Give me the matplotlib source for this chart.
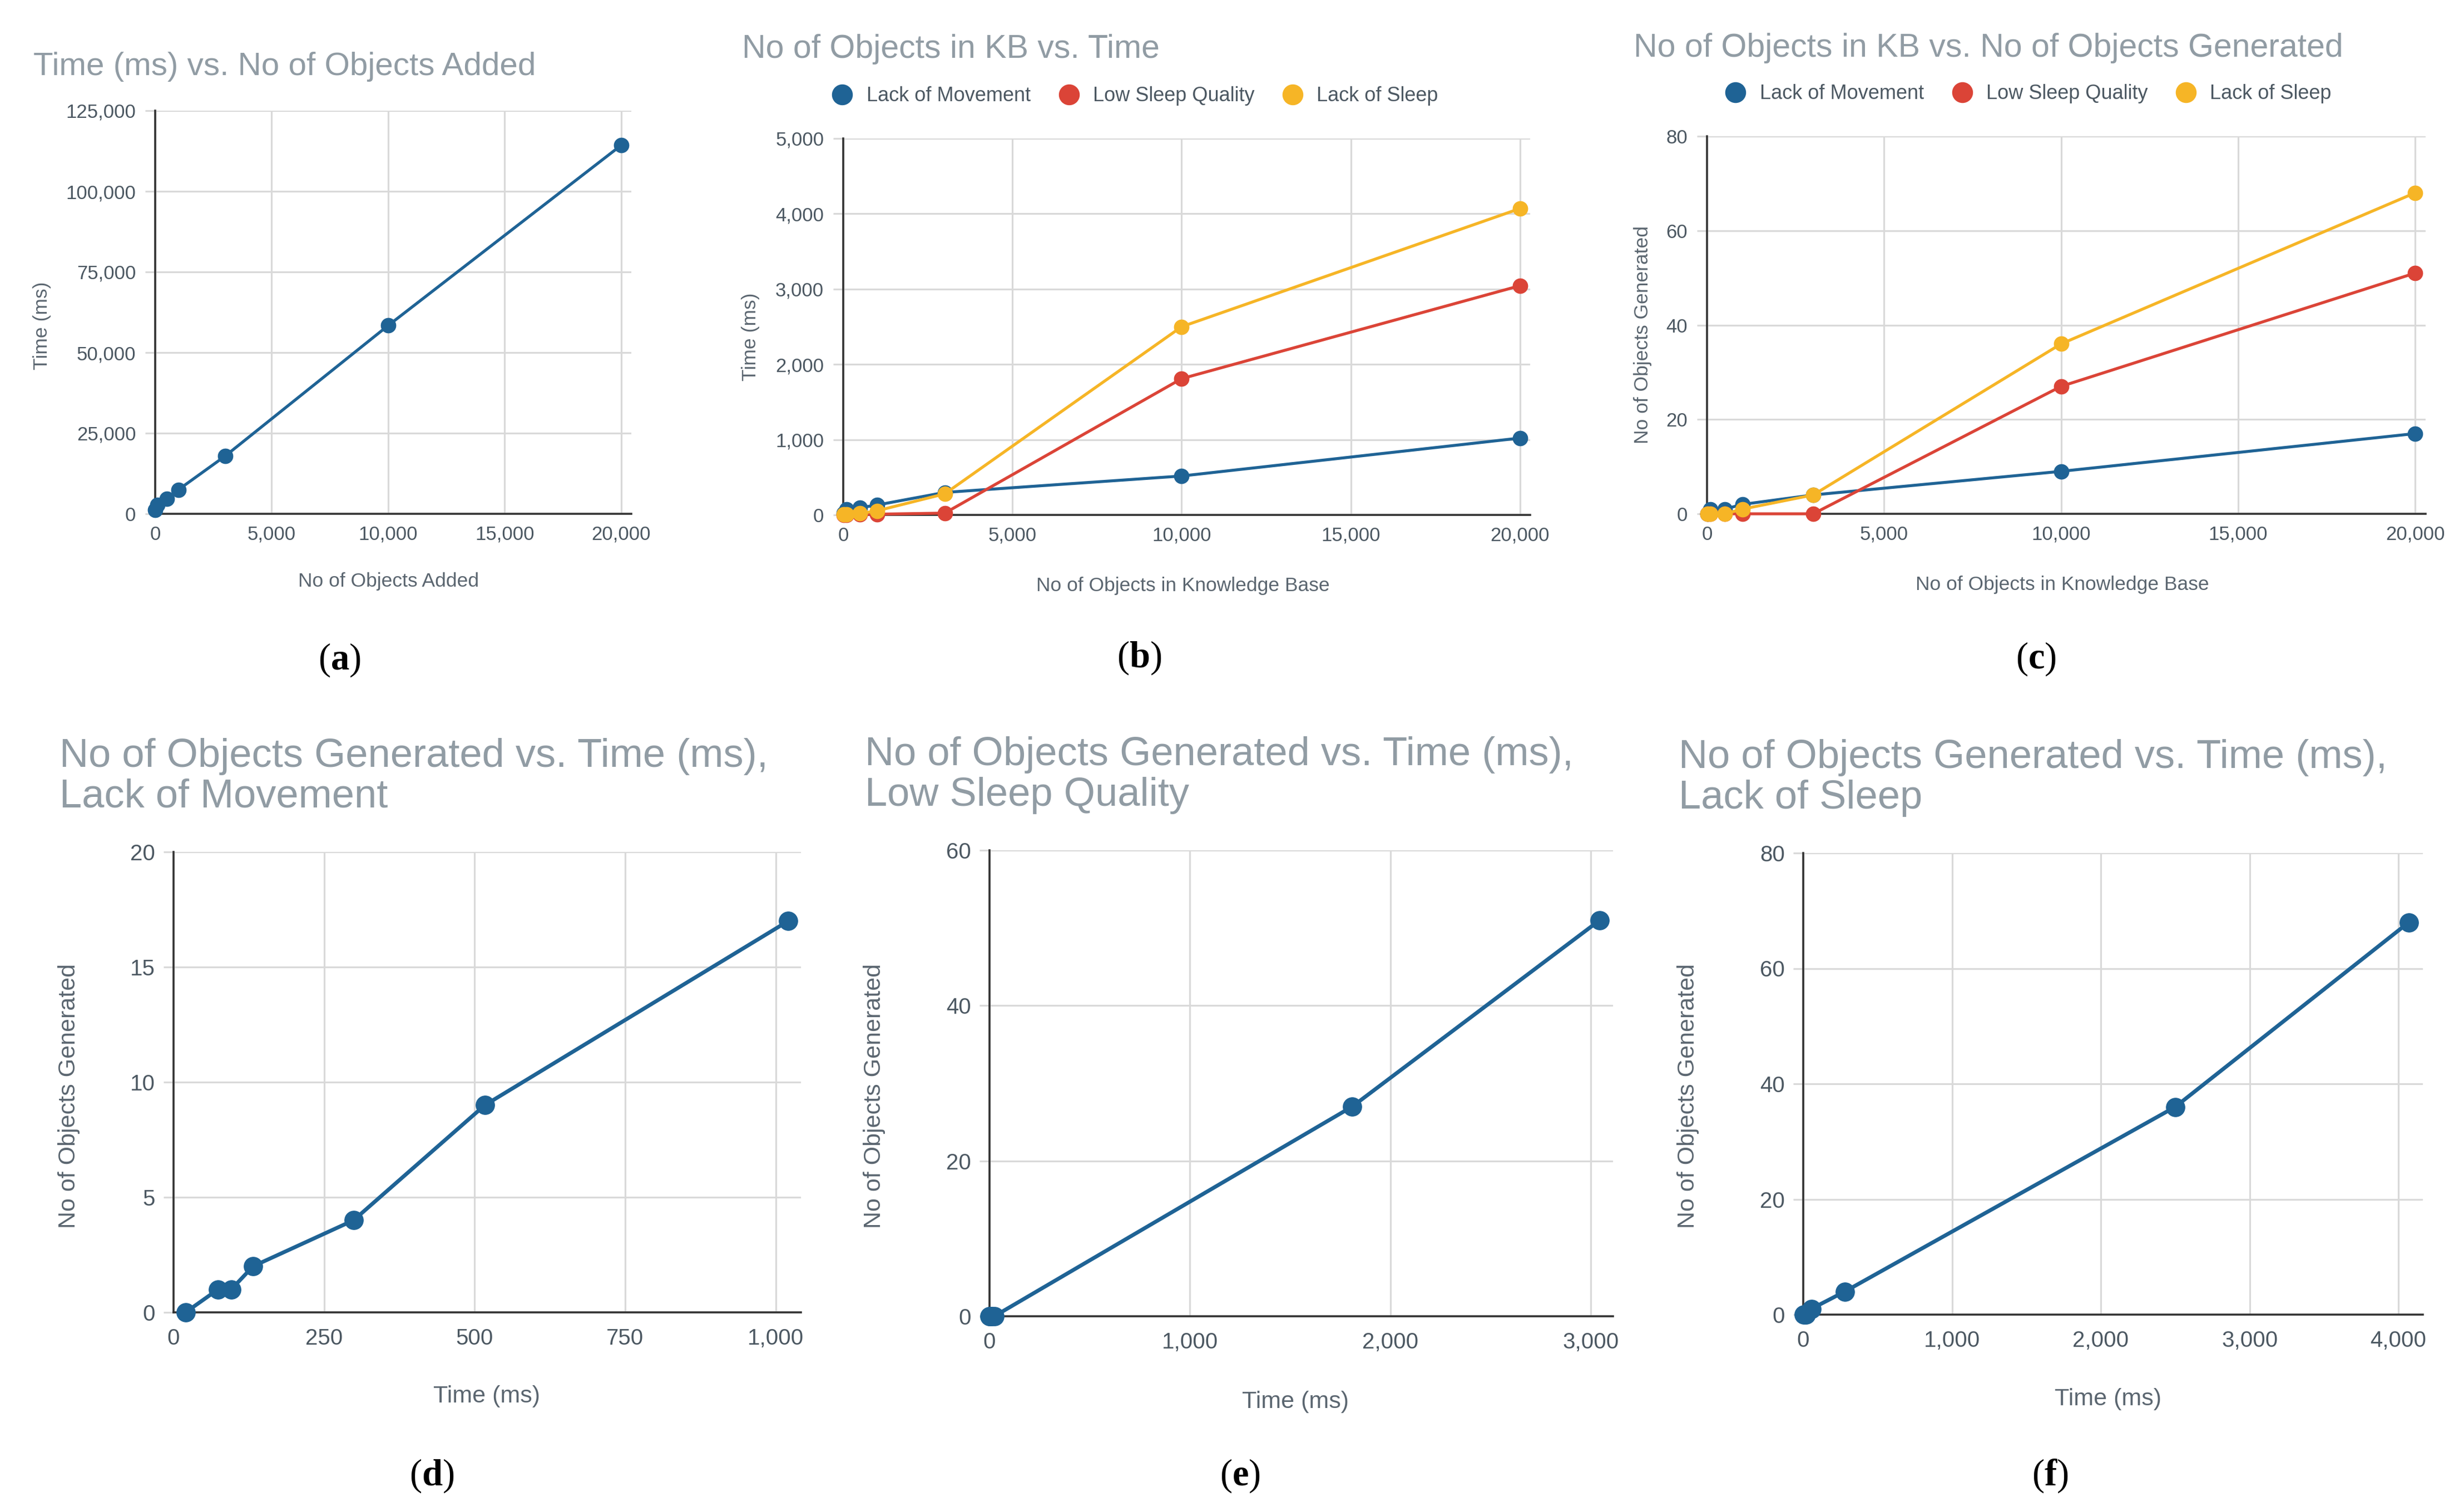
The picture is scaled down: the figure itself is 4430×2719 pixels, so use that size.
import matplotlib
matplotlib.use('Agg')
import matplotlib.pyplot as plt
from matplotlib.lines import Line2D
from matplotlib.ticker import FuncFormatter

plt.rcParams['font.family'] = ['Liberation Sans', 'DejaVu Sans']
plt.rcParams['mathtext.fontset'] = 'custom'
plt.rcParams['mathtext.rm'] = 'Liberation Serif'
plt.rcParams['mathtext.bf'] = 'Liberation Serif:bold'

BLUE = '#1f6395'
RED = '#db4437'
YELLOW = '#f6b526'
GRID = '#d9d9d9'
AXIS = '#333333'
TITLE_C = '#919ca4'
TICK_C = '#4c5862'
LABEL_C = '#5b6670'

# data
kb = [10, 100, 500, 1000, 3000, 10000, 20000]
time_added = [1200, 2800, 4600, 7500, 17900, 58400, 114300]

lom_time = [20, 74, 96, 132, 299, 517, 1021]
lom_gen = [0, 1, 1, 2, 4, 9, 17]
lsq_time = [1, 3, 6, 10, 24, 1810, 3045]
lsq_gen = [0, 0, 0, 0, 0, 27, 51]
los_time = [5, 10, 20, 55, 280, 2500, 4070]
los_gen = [0, 0, 0, 1, 4, 36, 68]

series_names = ['Lack of Movement', 'Low Sleep Quality', 'Lack of Sleep']

W, H = 4430, 2719
fig = plt.figure(figsize=(W / 100, H / 100), dpi=100)


def px(x, y):
    return x / W, 1 - y / H


def make_ax(l, t, r, b, xlim, ylim, xticks, yticks, big=False):
    ax = fig.add_axes([l / W, 1 - b / H, (r - l) / W, (b - t) / H])
    ax.set_xlim(*xlim)
    ax.set_ylim(*ylim)
    ax.set_xticks(xticks)
    ax.set_yticks(yticks)
    fmt = FuncFormatter(lambda v, p: f'{v:,.0f}')
    ax.xaxis.set_major_formatter(fmt)
    ax.yaxis.set_major_formatter(fmt)
    ax.grid(True, color=GRID, linewidth=2.3)
    ax.set_axisbelow(True)
    for s in ['top', 'right']:
        ax.spines[s].set_visible(False)
    for s in ['left', 'bottom']:
        ax.spines[s].set_color(AXIS)
        ax.spines[s].set_linewidth(2.6)
        ax.spines[s].set_zorder(3)
    fs = 29 if big else 25
    ax.tick_params(axis='y', length=13, width=2.3, color=GRID, pad=12 if not big else 11,
                   labelsize=fs, labelcolor=TICK_C)
    ax.tick_params(axis='x', length=0, pad=15 if not big else 20,
                   labelsize=fs, labelcolor=TICK_C)
    return ax


def label(ax_text, x, y, size, **kw):
    fig.text(*px(x, y), ax_text, **kw, fontsize=size)


def sub(letter, x, y):
    fig.text(*px(x, y), r'$\mathrm{(}\mathbf{' + letter + r'}\mathrm{)}$',
             fontsize=48, ha='center', va='center', color='black')


ms_top, lw_top = 19, 3.8
ms_bot, lw_bot = 24, 5

# (a)
ax = make_ax(279, 199, 1135, 924, (0, 20430), (0, 125000),
             range(0, 20001, 5000), range(0, 125001, 25000))
ax.plot(kb, time_added, color=BLUE, lw=lw_top, marker='o', ms=ms_top, clip_on=False, zorder=4)
label('Time (ms) vs. No of Objects Added', 60, 135, 42, color=TITLE_C, ha='left', va='baseline')
label('No of Objects Added', 699, 1046, 25.5, color=LABEL_C, ha='center', va='center')
label('Time (ms)', 76, 586, 25.5, color=LABEL_C, ha='center', va='center', rotation=90)
sub('a', 610, 1187)

# (b)
ax = make_ax(1516, 249, 2751, 926, (0, 20296), (0, 5000),
             range(0, 20001, 5000), range(0, 5001, 1000))
for t, c in zip([lom_time, lsq_time, los_time], [BLUE, RED, YELLOW]):
    ax.plot(kb, t, color=c, lw=lw_top, marker='o', ms=ms_top, clip_on=False, zorder=4)
label('No of Objects in KB vs. Time', 1334, 104, 42.5, color=TITLE_C, ha='left', va='baseline')
label('No of Objects in Knowledge Base', 2127, 1053, 25.5, color=LABEL_C, ha='center', va='center')
label('Time (ms)', 1349, 606, 25.5, color=LABEL_C, ha='center', va='center', rotation=90)
sub('b', 2048, 1183)
handles = [Line2D([], [], ls='none', marker='o', ms=26, color=c) for c in [BLUE, RED, YELLOW]]
fig.legend(handles, series_names, loc='center left', bbox_to_anchor=px(1500, 173), ncol=3,
           frameon=False, fontsize=26, labelcolor=TICK_C, handlelength=0.8, handletextpad=0.8,
           columnspacing=1.5, borderpad=0, borderaxespad=0)

# (c)
ax = make_ax(3069, 245, 4361, 924, (0, 20298), (0, 80),
             range(0, 20001, 5000), range(0, 81, 20))
for g, c in zip([lom_gen, lsq_gen, los_gen], [BLUE, RED, YELLOW]):
    ax.plot(kb, g, color=c, lw=lw_top, marker='o', ms=ms_top, clip_on=False, zorder=4)
label('No of Objects in KB vs. No of Objects Generated', 2937, 102, 42.5, color=TITLE_C,
      ha='left', va='baseline')
label('No of Objects in Knowledge Base', 3708, 1052, 25.5, color=LABEL_C, ha='center', va='center')
label('No of Objects Generated', 2954, 602, 25.5, color=LABEL_C, ha='center', va='center', rotation=90)
sub('c', 3661, 1185)
fig.legend(handles, series_names, loc='center left', bbox_to_anchor=px(3106, 169), ncol=3,
           frameon=False, fontsize=26, labelcolor=TICK_C, handlelength=0.8, handletextpad=0.8,
           columnspacing=1.5, borderpad=0, borderaxespad=0)

# bottom row
bottom = [
    (312, 1532, 1440, 2360, 1042, 20, range(0, 1001, 250), range(0, 21, 5),
     lom_time, lom_gen, 'Lack of Movement', 107, 1379, 875, 2511, 124, 'd', 776),
    (1779, 1529, 2900, 2367, 3111, 60, range(0, 3001, 1000), range(0, 61, 20),
     lsq_time, lsq_gen, 'Low Sleep Quality', 1555, 1376, 2329, 2521, 1572, 'e', 2230),
    (3242, 1534, 4356, 2364, 4164, 80, range(0, 4001, 1000), range(0, 81, 20),
     los_time, los_gen, 'Lack of Sleep', 3018, 1381, 3790, 2516, 3035, 'f', 3686),
]
for (l, t, r, b, xmax, ymax, xt, yt, xs, ys, name, tx, ty, xlx, xly, ylx, let, sx) in bottom:
    ax = make_ax(l, t, r, b, (0, xmax), (0, ymax), xt, yt, big=True)
    ax.plot(xs, ys, color=BLUE, lw=lw_bot, marker='o', ms=ms_bot, clip_on=False, zorder=4)
    label('No of Objects Generated vs. Time (ms),', tx, ty, 52, color=TITLE_C, ha='left', va='baseline')
    label(name, tx, ty + 73, 52, color=TITLE_C, ha='left', va='baseline')
    label('Time (ms)', xlx, xly, 31, color=LABEL_C, ha='center', va='center')
    label('No of Objects Generated', ylx, 1971, 31, color=LABEL_C, ha='center', va='center', rotation=90)
    sub(let, sx, 2654)

fig.savefig('out.png', dpi=100)
